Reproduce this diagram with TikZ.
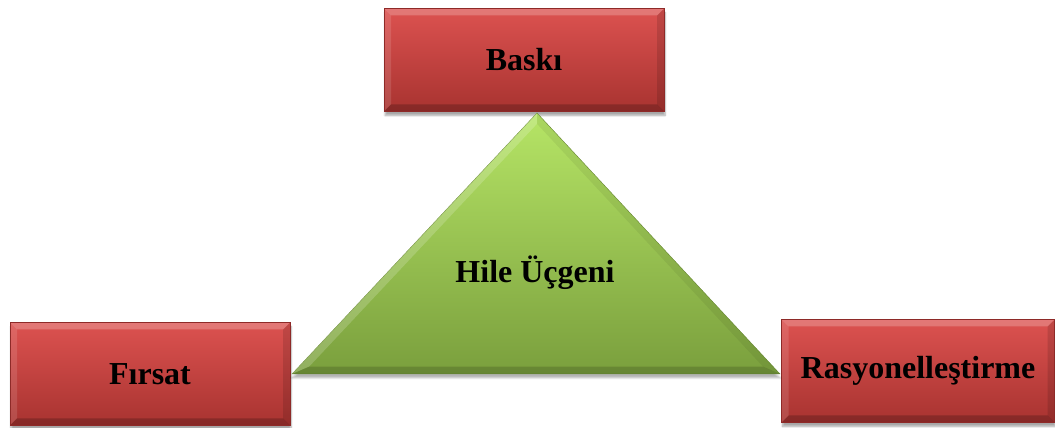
\documentclass[tikz,border=0pt]{standalone}
\usepackage{fontspec}
\setmainfont{Liberation Serif}
\usetikzlibrary{calc,shadows.blur}
\definecolor{redtop}{HTML}{DC5250}
\definecolor{redbot}{HTML}{A83330}
\definecolor{reddark}{HTML}{8E2A28}
\definecolor{grtop}{HTML}{B6E566}
\definecolor{grbot}{HTML}{7A9F3D}
\definecolor{grdark}{HTML}{6A8A34}
\tikzset{
  labtext/.style={font=\bfseries\fontsize{32}{38}\selectfont, text=black},
  redbox/.style={labtext, minimum height=103pt, inner sep=0pt,
    top color=redtop, bottom color=redbot, draw=reddark, line width=0.5pt,
    blur shadow={shadow xshift=1pt, shadow yshift=-4pt, shadow blur steps=6, shadow opacity=35},
    path picture={
      \coordinate (pnw) at (path picture bounding box.north west);
      \coordinate (pne) at (path picture bounding box.north east);
      \coordinate (psw) at (path picture bounding box.south west);
      \coordinate (pse) at (path picture bounding box.south east);
      \fill[white,opacity=0.22] (pnw) -- (pne) -- ([shift={(-7pt,-7pt)}]pne) -- ([shift={(7pt,-7pt)}]pnw) -- cycle;
      \fill[white,opacity=0.12] (pnw) -- (psw) -- ([shift={(7pt,7pt)}]psw) -- ([shift={(7pt,-7pt)}]pnw) -- cycle;
      \fill[black,opacity=0.12] (pne) -- (pse) -- ([shift={(-7pt,7pt)}]pse) -- ([shift={(-7pt,-7pt)}]pne) -- cycle;
      \fill[black,opacity=0.2] (psw) -- (pse) -- ([shift={(-7pt,7pt)}]pse) -- ([shift={(7pt,7pt)}]psw) -- cycle;
    }}
}
\begin{document}
\begin{tikzpicture}[x=1pt,y=1pt]
\useasboundingbox (0,0) rectangle (1055,428);
% boxes
\node[redbox, minimum width=280pt] (baski) at (524,368) {Baskı};
\node[redbox, minimum width=280pt] (firsat) at (150,54) {Fırsat};
\node[redbox, minimum width=273pt] (rasyo) at (918,57) {Rasyonelleştirme};
% triangle
\coordinate (apex) at (537,315);
\coordinate (bl) at (292,54);
\coordinate (br) at (780,54);
\coordinate (inc) at (537,160);
\path[blur shadow={shadow xshift=0pt, shadow yshift=-4pt, shadow blur steps=6, shadow opacity=30},
  top color=grtop, bottom color=grbot, draw=grdark, line width=0.4pt]
  (apex) -- (bl) -- (br) -- cycle;
\coordinate (ia) at ($(inc)!0.93!(apex)$);
\coordinate (ibl) at ($(inc)!0.93!(bl)$);
\coordinate (ibr) at ($(inc)!0.93!(br)$);
\fill[white,opacity=0.18] (apex) -- (bl) -- (ibl) -- (ia) -- cycle;
\fill[black,opacity=0.06] (apex) -- (br) -- (ibr) -- (ia) -- cycle;
\fill[black,opacity=0.16] (bl) -- (br) -- (ibr) -- (ibl) -- cycle;
\node[labtext] (hile) at (535,155) {Hile Üçgeni};
\end{tikzpicture}
\end{document}
